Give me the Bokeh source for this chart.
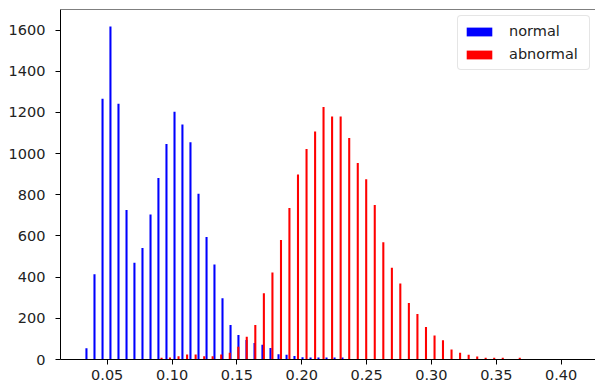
from bokeh.plotting import figure
from bokeh.models import (ColumnDataSource, Range1d, FixedTicker, PrintfTickFormatter,
                          Legend, LegendItem, Span)
from bokeh.embed import file_html
from bokeh.resources import INLINE

# --- data ---
normal_x = [0.0340, 0.0402, 0.0464, 0.0525, 0.0587, 0.0649, 0.0710, 0.0772, 0.0834, 0.0895,
            0.0957, 0.1019, 0.1080, 0.1142, 0.1204, 0.1266, 0.1327, 0.1389, 0.1451, 0.1512,
            0.1574, 0.1636, 0.1697, 0.1759, 0.1821, 0.1883, 0.1944, 0.2006, 0.2068, 0.2129,
            0.2191, 0.2253, 0.2314]
normal_counts = [55, 414, 1266, 1618, 1242, 726, 470, 541, 704, 881,
                 1047, 1203, 1142, 1055, 805, 595, 462, 298, 168, 119,
                 95, 80, 72, 56, 26, 23, 17, 11, 10, 10,
                 10, 10, 10]

abnormal_x = [0.0919, 0.0984, 0.1050, 0.1116, 0.1182, 0.1248, 0.1313, 0.1379, 0.1445, 0.1511,
              0.1576, 0.1642, 0.1708, 0.1774, 0.1840, 0.1905, 0.1971, 0.2037, 0.2103, 0.2168,
              0.2234, 0.2300, 0.2366, 0.2432, 0.2497, 0.2563, 0.2629, 0.2695, 0.2760, 0.2826,
              0.2892, 0.2958, 0.3024, 0.3089, 0.3155, 0.3221, 0.3287, 0.3353, 0.3418, 0.3484,
              0.3550, 0.3681]
abnormal_counts = [8, 10, 16, 24, 24, 16, 16, 24, 33, 62,
                   111, 167, 322, 423, 580, 736, 898, 1022, 1108, 1227,
                   1180, 1180, 1076, 955, 876, 750, 570, 446, 369, 275,
                   221, 158, 117, 93, 48, 33, 23, 15, 8, 8,
                   8, 8]

x_ticks = [0.05, 0.10, 0.15, 0.20, 0.25, 0.30, 0.35, 0.40]
y_ticks = [0, 200, 400, 600, 800, 1000, 1200, 1400, 1600]
series_labels = ["normal", "abnormal"]

FONT = "DejaVu Sans"
FS = "14.5px"
TXT = "#222222"

p = figure(width=595, height=388, output_backend="svg", toolbar_location=None,
           x_range=Range1d(0.01399, 0.4265), y_range=Range1d(0, 1700),
           min_border_left=60, min_border_right=0, min_border_top=9, min_border_bottom=29)

p.xgrid.visible = False
p.ygrid.visible = False
p.outline_line_color = None
p.background_fill_color = "white"
p.border_fill_color = "white"

src_n = ColumnDataSource(dict(x=normal_x, top=normal_counts))
src_a = ColumnDataSource(dict(x=abnormal_x, top=abnormal_counts))

rb = p.vbar(x="x", top="top", width=0.0016, source=src_n,
            fill_color="#0000ff", line_color=None)
rr = p.vbar(x="x", top="top", width=0.0016, source=src_a,
            fill_color="#ff0000", line_color=None)

# top spine
p.add_layout(Span(location=1700, dimension="width", line_color="black", line_width=1))

for ax in (p.xaxis[0], p.yaxis[0]):
    ax.axis_line_color = "black"
    ax.axis_line_width = 1
    ax.major_tick_line_color = "black"
    ax.major_tick_out = 5
    ax.major_tick_in = 0
    ax.minor_tick_out = 0
    ax.minor_tick_in = 0
    ax.major_label_text_font = FONT
    ax.major_label_text_font_size = FS
    ax.major_label_text_color = TXT

p.xaxis.ticker = FixedTicker(ticks=x_ticks)
p.xaxis.formatter = PrintfTickFormatter(format="%.2f")
p.xaxis.major_label_standoff = 5
p.yaxis.ticker = FixedTicker(ticks=y_ticks)
p.yaxis.major_label_standoff = 10

legend = Legend(items=[LegendItem(label=series_labels[0], renderers=[rb]),
                       LegendItem(label=series_labels[1], renderers=[rr])],
                location=(397, 289),
                label_text_font=FONT, label_text_font_size=FS, label_text_color=TXT,
                glyph_width=32, glyph_height=11, label_standoff=14,
                padding=5, spacing=3, label_height=20, label_width=75,
                border_line_color="#cccccc", border_line_width=1,
                background_fill_color="white", background_fill_alpha=0.8,
                border_radius=4)
p.add_layout(legend)

open("out.html", "w").write(file_html(p, INLINE))
